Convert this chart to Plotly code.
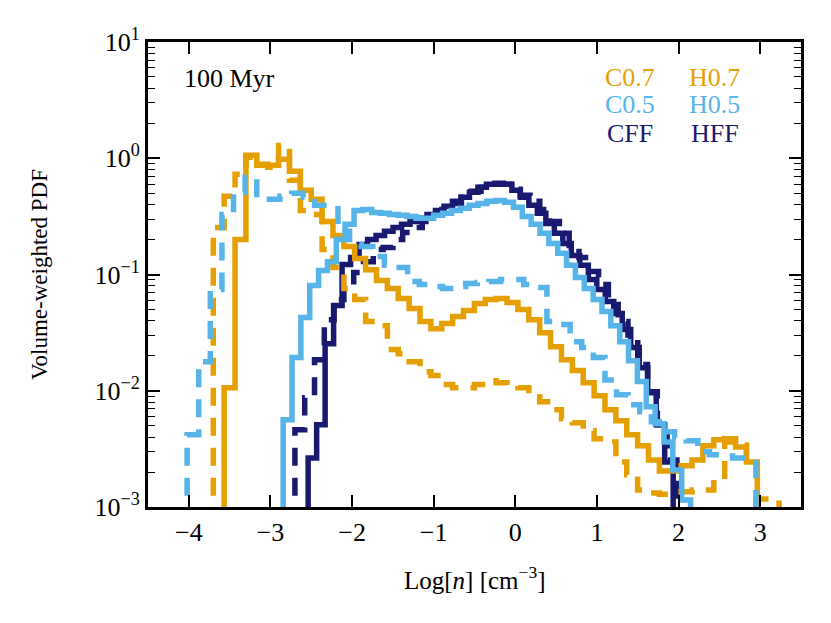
import plotly.graph_objects as go

# --- histogram data: left edge (log n), bin width (dex), volume-weighted PDF per bin ---
c07_x0, c07_dx = -3.567, 0.1333
c07_pdf = [0.0106, 0.200, 1.06, 0.870, 0.870, 0.980, 0.773, 0.530, 0.443, 0.286,
           0.217, 0.174, 0.137, 0.110, 0.0888, 0.0757, 0.0621, 0.0509, 0.0394, 0.0342,
           0.0378, 0.0435, 0.0490, 0.0562, 0.0608, 0.0621, 0.0574, 0.0499, 0.0409, 0.0316,
           0.0239, 0.0185, 0.0149, 0.0117, 0.00906, 0.00686, 0.00551, 0.00418, 0.00336, 0.00254,
           0.00204, 0.00204, 0.00226, 0.00254, 0.00336, 0.00378, 0.00386, 0.00329, 0.00244]

h07_x0, h07_dx = -3.700, 0.1333
h07_pdf = [0.254, 0.470, 0.728, 1.02, 0.888, 0.836, 1.29, 0.646, 0.356, 0.329,
           0.164, 0.115, 0.0757, 0.0608, 0.0394, 0.0363, 0.0226, 0.0208, 0.0178, 0.0146,
           0.0135, 0.0113, 0.0106, 0.0106, 0.0113, 0.0122, 0.0117, 0.0110, 0.0106, 0.00942,
           0.00804, 0.00686, 0.00574, 0.00530, 0.00452, 0.00386, 0.00363, 0.00244, 0.00189, 0.00140,
           0.00132, 0.00129, 0.00129, 0.00135, 0.00140, 0.00140, 0.00171, 0.00363, 0.00342, 0.00244,
           0.00117, 0.00117]

c05_x0, c05_dx = -2.844, 0.1085
c05_pdf = [0.00562, 0.0193, 0.0426, 0.0804, 0.108, 0.129, 0.200, 0.270, 0.356, 0.363,
           0.342, 0.336, 0.329, 0.323, 0.316, 0.304, 0.304, 0.323, 0.336, 0.356,
           0.371, 0.394, 0.409, 0.426, 0.434, 0.418, 0.378, 0.316, 0.270, 0.226,
           0.185, 0.152, 0.120, 0.0942, 0.0757, 0.0608, 0.0480, 0.0363, 0.0264, 0.0181,
           0.0120, 0.00728, 0.00520, 0.00363, 0.00208, 0.00115]

h05_x0, h05_dx = -4.021, 0.1422
h05_pdf = [0.00418, 0.0178, 0.0743, 0.329, 0.509, 0.686, 0.443, 0.443, 0.470, 0.499,
           0.461, 0.394, 0.394, 0.235, 0.181, 0.174, 0.143, 0.120, 0.115, 0.0870,
           0.0820, 0.0788, 0.0757, 0.0788, 0.0836, 0.0853, 0.0870, 0.0906, 0.0906, 0.0820,
           0.0773, 0.0394, 0.0371, 0.0264, 0.0235, 0.0193, 0.0124, 0.00924, 0.00757, 0.00659,
           0.00541, 0.00443, 0.00394, 0.00371, 0.00298, 0.00281, 0.00275, 0.00264, 0.00264]

cff_x0, cff_dx = -2.538, 0.104
cff_pdf = [0.00264, 0.00509, 0.0254, 0.0541, 0.122, 0.140, 0.181, 0.200, 0.217, 0.235,
           0.254, 0.270, 0.286, 0.304, 0.329, 0.356, 0.386, 0.426, 0.461, 0.509,
           0.562, 0.597, 0.608, 0.597, 0.530, 0.461, 0.394, 0.336, 0.275, 0.226,
           0.185, 0.146, 0.120, 0.0906, 0.0743, 0.0585, 0.0461, 0.0336, 0.0235, 0.0158,
           0.00961, 0.00509, 0.00244]

hff_x0, hff_dx = -2.700, 0.120
hff_pdf = [0.00461, 0.00871, 0.0185, 0.0409, 0.0608, 0.0743, 0.104, 0.129, 0.164, 0.171,
           0.200, 0.230, 0.254, 0.286, 0.323, 0.363, 0.409, 0.461, 0.520, 0.562,
           0.597, 0.597, 0.541, 0.480, 0.426, 0.363, 0.286, 0.226, 0.178, 0.140,
           0.106, 0.0820, 0.0551, 0.0394, 0.0275, 0.0168, 0.00980, 0.00509, 0.00254]

ORANGE, SKY, NAVY = "#E69F00", "#56B4E9", "#191970"
FONT = "Liberation Serif"


def step_xy(x0, dx, pdf):
    # histogram outline, dropping to (almost) zero at both ends like a step histogram
    edges = [x0 + i * dx for i in range(len(pdf) + 1)]
    xs = [edges[0]] + edges[:-1] + [edges[-1], edges[-1]]
    ys = [1e-6] + list(pdf) + [pdf[-1], 1e-6]
    return xs, ys


series = [  # drawing order: navy at the back, light blue on top
    ("CFF", cff_x0, cff_dx, cff_pdf, NAVY, "solid"),
    ("HFF", hff_x0, hff_dx, hff_pdf, NAVY, "18px,12px"),
    ("C0.7", c07_x0, c07_dx, c07_pdf, ORANGE, "solid"),
    ("H0.7", h07_x0, h07_dx, h07_pdf, ORANGE, "18px,12px"),
    ("C0.5", c05_x0, c05_dx, c05_pdf, SKY, "solid"),
    ("H0.5", h05_x0, h05_dx, h05_pdf, SKY, "18px,12px"),
]

fig = go.Figure()
for name, x0, dx, pdf, col, dash in series:
    xs, ys = step_xy(x0, dx, pdf)
    fig.add_trace(go.Scatter(x=xs, y=ys, mode="lines", name=name, line_shape="hv",
                             line=dict(color=col, width=5.5, dash=dash), showlegend=False))

x_ticks = [-4, -3, -2, -1, 0, 1, 2, 3]
x_text = [("\u2212" + str(-v)) if v < 0 else str(v) for v in x_ticks]
y_ticks = [1e-3, 1e-2, 1e-1, 1e0, 1e1]
y_text = ["10<sup>\u22123</sup>", "10<sup>\u22122</sup>", "10<sup>\u22121</sup>",
          "10<sup>0</sup>", "10<sup>1</sup>"]
y_minor = [m * 10.0 ** e for e in (-3, -2, -1, 0) for m in range(2, 10)]

fig.update_xaxes(range=[-4.5, 3.5], tickvals=x_ticks, ticktext=x_text,
                 ticks="inside", ticklen=12, tickwidth=1.5, tickcolor="black",
                 showline=True, linewidth=3, linecolor="black", mirror="allticks",
                 showgrid=False, zeroline=False,
                 tickfont=dict(family=FONT, size=26, color="black"))
fig.update_yaxes(type="log", range=[-3, 1], tickvals=y_ticks, ticktext=y_text,
                 ticks="inside", ticklen=12, tickwidth=1.5, tickcolor="black",
                 minor=dict(tickvals=y_minor, ticks="inside", ticklen=7, tickwidth=1.2,
                            tickcolor="black", showgrid=False),
                 showline=True, linewidth=3, linecolor="black", mirror="allticks",
                 showgrid=False, zeroline=False,
                 tickfont=dict(family=FONT, size=26, color="black"))

# legend written as coloured labels, plus panel label and axis titles
labels = [("C0.7", 0.738, 0.923, ORANGE), ("H0.7", 0.868, 0.923, ORANGE),
          ("C0.5", 0.738, 0.865, SKY), ("H0.5", 0.868, 0.865, SKY),
          ("CFF", 0.738, 0.804, NAVY), ("HFF", 0.868, 0.804, NAVY),
          ("100 Myr", 0.125, 0.921, "black")]
for txt, x, y, col in labels:
    fig.add_annotation(text=txt, x=x, y=y, xref="paper", yref="paper", showarrow=False,
                       xanchor="center", yanchor="middle",
                       font=dict(family=FONT, size=26, color=col))

fig.add_annotation(text="Volume-weighted PDF", x=-0.166, y=0.5, xref="paper", yref="paper",
                   showarrow=False, textangle=-90, xanchor="center", yanchor="middle",
                   font=dict(family=FONT, size=23, color="black"))
fig.add_annotation(text="Log[<i>n</i>] [cm<sup>\u22123</sup>]", x=0.5, y=-0.153,
                   xref="paper", yref="paper", showarrow=False,
                   xanchor="center", yanchor="middle",
                   font=dict(family=FONT, size=25, color="black"))

# the page body adds an 8px margin, so the figure is 16px smaller than the window
fig.update_layout(width=815, height=607, margin=dict(l=140, r=22, t=34, b=108),
                  paper_bgcolor="white", plot_bgcolor="white")

fig.write_html("out.html")
